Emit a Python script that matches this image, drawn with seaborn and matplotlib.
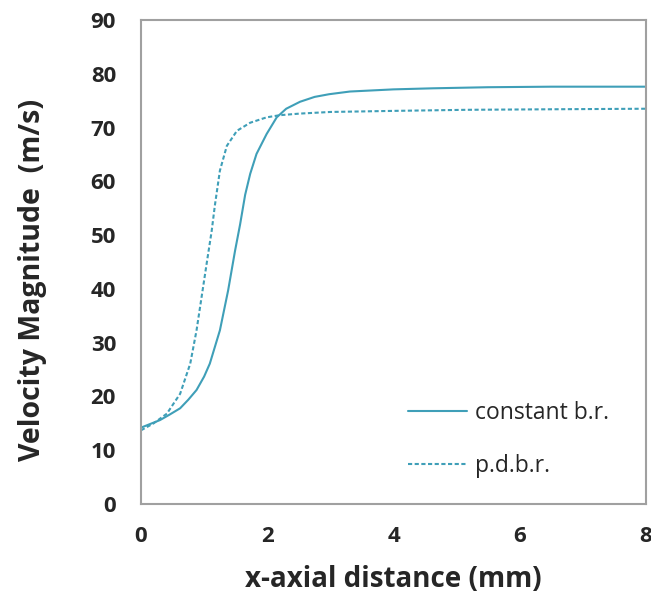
import numpy as np
import pandas as pd
import matplotlib
matplotlib.use("Agg")
import matplotlib.pyplot as plt
import seaborn as sns

# Data
x_const = [0, 0.15, 0.30, 0.45, 0.62, 0.75, 0.88, 1.0, 1.09, 1.25, 1.38, 1.49, 1.57, 1.65,
           1.73, 1.83, 1.99, 2.15, 2.30, 2.52, 2.75, 2.98, 3.31, 4.0, 4.63, 5.5, 6.5, 8]
v_const = [14.2, 14.9, 15.6, 16.6, 17.8, 19.4, 21.2, 23.7, 26.1, 32.3, 39.7, 47.1, 52.0, 57.5,
           61.4, 65.1, 68.8, 71.9, 73.5, 74.8, 75.7, 76.2, 76.7, 77.1, 77.3, 77.5, 77.6, 77.6]
x_pdbr = [0, 0.20, 0.41, 0.62, 0.78, 0.88, 0.96, 1.04, 1.12, 1.17, 1.25, 1.36, 1.52, 1.73,
          1.99, 2.2, 2.52, 3.0, 4.0, 5.16, 6.5, 8]
v_pdbr = [13.7, 15.0, 16.8, 20.5, 26.1, 32.3, 38.5, 44.7, 50.8, 55.5, 62.0, 66.6, 69.4, 70.9,
          71.9, 72.3, 72.6, 72.9, 73.1, 73.3, 73.4, 73.5]
series_names = ["constant b.r.", "p.d.b.r."]
x_ticks = [0, 2, 4, 6, 8]
y_ticks = [0, 10, 20, 30, 40, 50, 60, 70, 80, 90]

df = pd.concat([
    pd.DataFrame({"x": x_const, "v": v_const, "series": series_names[0]}),
    pd.DataFrame({"x": x_pdbr, "v": v_pdbr, "series": series_names[1]}),
])

sns.set_style("white")
plt.rcParams["font.family"] = ["Open Sans", "DejaVu Sans"]

fig = plt.figure(figsize=(6.51, 6.01), dpi=100)
ax = fig.add_axes([141 / 651, 1 - 504 / 601, (646 - 141) / 651, (504 - 20) / 601])

color = "#3F9FB8"
sns.lineplot(data=df[df.series == series_names[0]], x="x", y="v", ax=ax, color=color,
             linewidth=1.5, label=series_names[0], estimator=None, sort=False)
sns.lineplot(data=df[df.series == series_names[1]], x="x", y="v", ax=ax, color=color,
             linewidth=1.5, linestyle=(0, (2, 1.2)), label=series_names[1], estimator=None, sort=False)

ax.set_xlim(0, 8)
ax.set_ylim(0, 90)
ax.set_xticks(x_ticks)
ax.set_yticks(y_ticks)
ax.set_xticklabels([str(t) for t in x_ticks], fontsize=16, fontweight="bold")
ax.set_yticklabels([str(t) for t in y_ticks], fontsize=16, fontweight="bold")
ax.tick_params(axis="both", direction="out", length=7, width=1.2, color="#A0A0A0")
ax.tick_params(axis="y", pad=11)
ax.tick_params(axis="x", pad=9)
for s in ax.spines.values():
    s.set_color("#A0A0A0")
    s.set_linewidth(1.5)
    s.set_visible(True)

ax.set_xlabel("x-axial distance (mm)", fontsize=20, fontweight="bold", labelpad=13)
ax.set_ylabel("Velocity Magnitude  (m/s)", fontsize=20.5, fontweight="bold")
ax.yaxis.set_label_coords(-0.186, 0.463)

leg = ax.legend(loc="lower right", bbox_to_anchor=(0.95, 0.03), frameon=False, fontsize=16.5,
                handlelength=2.6, labelspacing=1.25, handletextpad=0.35, borderpad=0)

fig.savefig("out.png", dpi=100)
